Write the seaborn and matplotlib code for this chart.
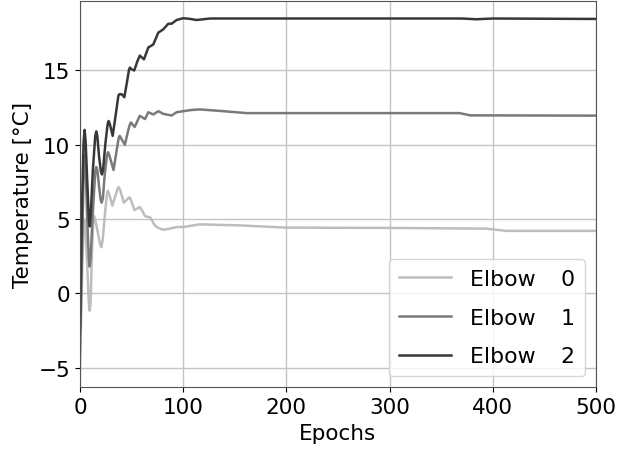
import matplotlib
matplotlib.use("Agg")
import matplotlib.pyplot as plt
import seaborn as sns
import pandas as pd

# ---- data ----
e0_epochs = [0, 1, 2, 3, 4, 5, 7, 8.5, 9.4, 10.3, 11.5, 12.7, 13.6, 14.6, 17, 19.5, 20.7, 22, 24,
             26, 27, 28.2, 31.3, 34.5, 36.5, 37.5, 38.7, 42.5, 46.8, 48, 49.3, 52.8, 56.5, 58, 60,
             63, 65.5, 68, 72.7, 76, 80.7, 87, 93.7, 100, 116, 155, 200, 300, 394, 413, 500]
e0_temp = [-5.1, -2.0, 1.0, 3.8, 5.0, 4.6, 2.0, -0.6, -1.17, -0.6, 2.5, 4.7, 5.2, 5.0, 4.2, 3.3, 3.1,
           3.6, 5.2, 6.6, 6.9, 6.7, 5.9, 6.6, 7.05, 7.14, 7.0, 6.1, 6.4, 6.46, 6.3, 5.6, 5.75, 5.8,
           5.6, 5.2, 5.15, 5.1, 4.56, 4.4, 4.28, 4.35, 4.46, 4.46, 4.64, 4.57, 4.42, 4.4, 4.35, 4.2,
           4.2]

e1_epochs = [0, 1, 2, 3.5, 4.5, 5.5, 7, 8.6, 9.4, 10.3, 12.5, 14.8, 15.8, 16.8, 18.5, 20, 21, 22.2,
             24, 26.2, 27.2, 28.4, 32.5, 35.5, 37.5, 38.5, 39.7, 43.5, 46.5, 48.5, 49.5, 50.5, 53, 58,
             63, 66.2, 71, 76, 80.7, 88.8, 93.7, 106.6, 116, 139, 161.5, 368, 378, 500]
e1_temp = [-4.0, -0.5, 3.0, 8.0, 9.3, 8.5, 5.0, 2.3, 1.8, 2.4, 5.5, 8.2, 8.5, 8.3, 7.2, 6.3, 6.1, 6.4,
           8.0, 9.3, 9.5, 9.3, 8.3, 9.6, 10.45, 10.6, 10.45, 10.0, 10.9, 11.4, 11.5, 11.4, 11.2,
           11.95, 11.73, 12.19, 12.04, 12.26, 12.08, 11.97, 12.19, 12.33, 12.38, 12.26, 12.13, 12.13,
           11.98, 11.96]

e2_epochs = [0, 1, 2, 3.5, 4.5, 5.5, 7, 8.6, 9.4, 10.3, 12.5, 14.8, 15.8, 16.8, 18.5, 20.3, 21.3,
             22.4, 24.5, 26.8, 27.8, 28.9, 31.7, 35, 37.2, 38.1, 40.5, 43, 45.5, 47.5, 48.4, 49.5,
             52.6, 55.5, 58, 62, 66.2, 71, 75.9, 80.7, 85.6, 88.8, 93.7, 100, 106, 113, 126, 200, 370,
             384, 400, 500]
e2_temp = [-2.6, 1.5, 6.0, 10.2, 11.0, 10.2, 7.6, 5.0, 4.5, 5.1, 8.3, 10.6, 10.9, 10.6, 9.2, 8.2, 8.0,
           8.3, 10.0, 11.4, 11.6, 11.4, 10.6, 12.2, 13.3, 13.4, 13.4, 13.2, 14.2, 15.05, 15.2, 15.1,
           15.0, 15.6, 16.0, 15.75, 16.55, 16.75, 17.55, 17.77, 18.15, 18.15, 18.4, 18.52, 18.48,
           18.4, 18.5, 18.5, 18.5, 18.45, 18.5, 18.47]

labels = ["Elbow   \u20090", "Elbow   \u20091", "Elbow   \u20092"]
colors = ["#bdbdbd", "#7a7a7a", "#383838"]

series = [(e0_epochs, e0_temp), (e1_epochs, e1_temp), (e2_epochs, e2_temp)]

plt.rcParams["font.family"] = ["DejaVu Sans"]
fig = plt.figure(figsize=(6.19, 4.56), dpi=100)
ax = fig.add_axes([0.1292, 0.1485, 0.9628 - 0.1292, 0.995 - 0.1485])

for (xs, ys), lab, col in zip(series, labels, colors):
    df = pd.DataFrame({"Epochs": xs, "Temp": ys})
    sns.lineplot(data=df, x="Epochs", y="Temp", ax=ax, color=col, lw=1.8,
                 label=lab, sort=False)

ax.set_xlim(0, 500)
ax.set_ylim(-6.33, 19.66)
ax.set_xticks([0, 100, 200, 300, 400, 500])
ax.set_yticks([-5, 0, 5, 10, 15])
ax.grid(True, color="#c4c4c4", lw=1.0)
ax.set_axisbelow(True)
ax.tick_params(labelsize=15.5)
ax.set_xlabel("Epochs", fontsize=15.5)
ax.set_ylabel("Temperature [°C]", fontsize=15.5)
for s in ax.spines.values():
    s.set_color("#555555")
ax.legend(loc="lower right", fontsize=15.8, labelspacing=0.85, handlelength=2.4,
          handletextpad=0.85, borderpad=0.45)

fig.savefig("out.png", dpi=100)
